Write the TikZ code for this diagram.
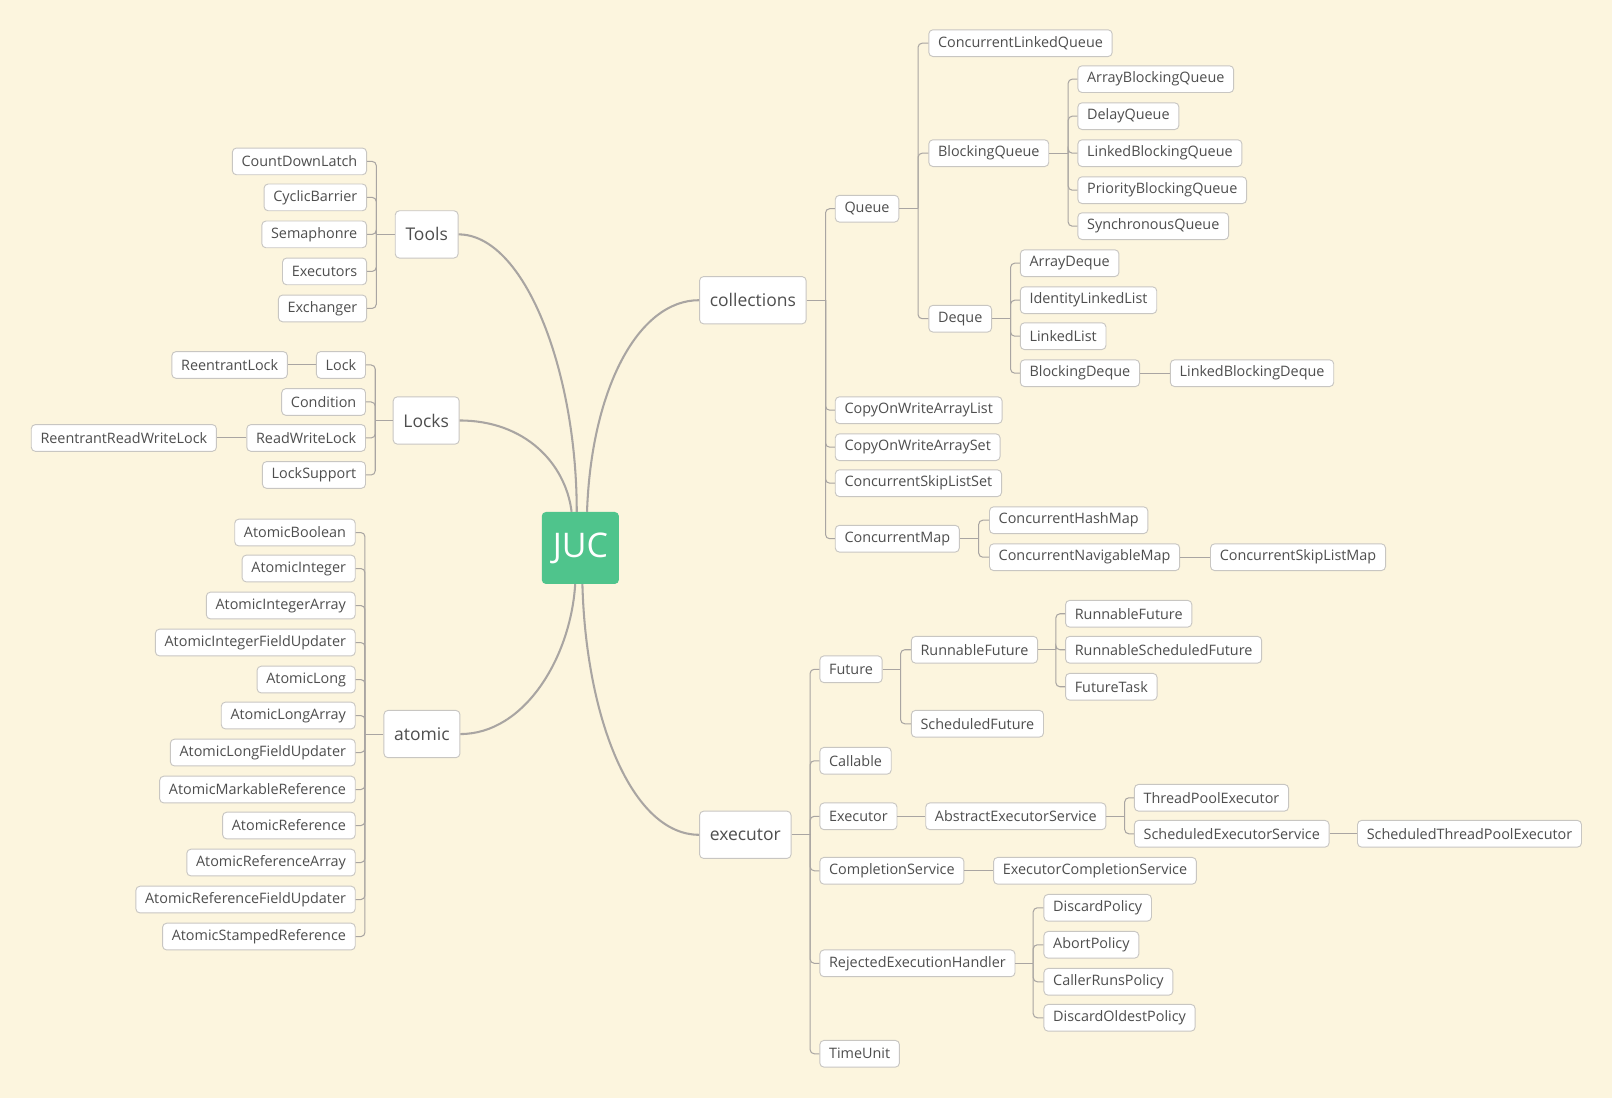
\documentclass[tikz,border=0pt]{standalone}
\usepackage{fontspec}
\setmainfont{Open Sans}
\definecolor{paper}{HTML}{FCF5DE}
\definecolor{jucgreen}{HTML}{4FC48C}
\definecolor{linegray}{HTML}{A9A5A2}
\definecolor{textgray}{HTML}{4E4E4E}
\definecolor{bordergray}{HTML}{C8C6C2}
\begin{document}
\begin{tikzpicture}[x=1pt, y=-1pt,
  leafbox/.style={draw=bordergray, fill=white, rounded corners=4pt, text=textgray, font=\fontsize{14}{16}\selectfont, inner xsep=9pt, minimum height=26pt, line width=0.9pt},
  topicbox/.style={draw=bordergray, fill=white, rounded corners=4pt, text=textgray, font=\fontsize{17}{20}\selectfont, inner xsep=10pt, minimum height=46pt, line width=0.9pt},
  rootbox/.style={fill=jucgreen, rounded corners=4pt, text=white, font=\fontsize{33}{38}\selectfont, minimum width=75pt, minimum height=70pt},
  treeline/.style={draw=linegray, line width=1pt, rounded corners=4pt},
  mainline/.style={draw=linegray, line width=2pt}
]
\useasboundingbox[fill=paper] (0,0) rectangle (1568,1068);

% root and main topics
\node[rootbox] (juc) at (564.5,533) {JUC};
\node[topicbox, anchor=west] (tools) at (384,228) {Tools};
\node[topicbox, anchor=west] (locks) at (382,409) {Locks};
\node[topicbox, anchor=west] (atomic) at (373,714) {atomic};
\node[topicbox, anchor=west] (coll) at (680,292) {collections};
\node[topicbox, anchor=west] (exec) at (680,812) {executor};

\draw[mainline] (tools.east) .. controls (510,228) and (561,360) .. ([xshift=-3.5pt]juc.north);
\draw[mainline] (locks.east) .. controls (510,409) and (550,450) .. ([xshift=-8.5pt]juc.north);
\draw[mainline] (coll.west) .. controls (620,292) and (575,380) .. ([xshift=6.5pt]juc.north);
\draw[mainline] (atomic.east) .. controls (510,714) and (555,640) .. ([xshift=-5pt]juc.south);
\draw[mainline] (exec.west) .. controls (615,812) and (570,700) .. ([xshift=2pt]juc.south);

% Tools
\node[leafbox, anchor=east] (cdl) at (357,157) {CountDownLatch};
\node[leafbox, anchor=east] (cyclic) at (357,192) {CyclicBarrier};
\node[leafbox, anchor=east] (sema) at (357,228) {Semaphonre};
\node[leafbox, anchor=east] (execs) at (357,264) {Executors};
\node[leafbox, anchor=east] (exch) at (357,300) {Exchanger};
\coordinate (toolsbus) at (366,228);
\draw[treeline] (tools.west) -- (toolsbus);
\draw[treeline] (toolsbus) |- (cdl.east);
\draw[treeline] (toolsbus) |- (cyclic.east);
\draw[treeline] (toolsbus) |- (sema.east);
\draw[treeline] (toolsbus) |- (execs.east);
\draw[treeline] (toolsbus) |- (exch.east);

% Locks
\node[leafbox, anchor=east] (lock) at (356,355) {Lock};
\node[leafbox, anchor=east] (rlock) at (280,355) {ReentrantLock};
\node[leafbox, anchor=east] (cond) at (356,391) {Condition};
\node[leafbox, anchor=east] (rwlock) at (356,426) {ReadWriteLock};
\node[leafbox, anchor=east] (rrwlock) at (211,426) {ReentrantReadWriteLock};
\node[leafbox, anchor=east] (lsupp) at (356,462) {LockSupport};
\coordinate (locksbus) at (365,409);
\draw[treeline] (locks.west) -- (locksbus);
\draw[treeline] (locksbus) |- (lock.east);
\draw[treeline] (locksbus) |- (cond.east);
\draw[treeline] (locksbus) |- (rwlock.east);
\draw[treeline] (locksbus) |- (lsupp.east);
\draw[treeline] (lock.west) -- (rlock.east);
\draw[treeline] (rwlock.west) -- (rrwlock.east);

% atomic
\node[leafbox, anchor=east] (aboolean) at (346,518) {AtomicBoolean};
\node[leafbox, anchor=east] (aint) at (346,553) {AtomicInteger};
\node[leafbox, anchor=east] (aintarr) at (346,589) {AtomicIntegerArray};
\node[leafbox, anchor=east] (aintfu) at (346,625) {AtomicIntegerFieldUpdater};
\node[leafbox, anchor=east] (along) at (346,661) {AtomicLong};
\node[leafbox, anchor=east] (alongarr) at (346,696) {AtomicLongArray};
\node[leafbox, anchor=east] (alongfu) at (346,732) {AtomicLongFieldUpdater};
\node[leafbox, anchor=east] (amark) at (346,768) {AtomicMarkableReference};
\node[leafbox, anchor=east] (aref) at (346,803) {AtomicReference};
\node[leafbox, anchor=east] (arefarr) at (346,839) {AtomicReferenceArray};
\node[leafbox, anchor=east] (areffu) at (346,875) {AtomicReferenceFieldUpdater};
\node[leafbox, anchor=east] (astamp) at (346,911) {AtomicStampedReference};
\coordinate (atomicbus) at (355,714);
\draw[treeline] (atomic.west) -- (atomicbus);
\draw[treeline] (atomicbus) |- (aboolean.east);
\draw[treeline] (atomicbus) |- (aint.east);
\draw[treeline] (atomicbus) |- (aintarr.east);
\draw[treeline] (atomicbus) |- (aintfu.east);
\draw[treeline] (atomicbus) |- (along.east);
\draw[treeline] (atomicbus) |- (alongarr.east);
\draw[treeline] (atomicbus) |- (alongfu.east);
\draw[treeline] (atomicbus) |- (amark.east);
\draw[treeline] (atomicbus) |- (aref.east);
\draw[treeline] (atomicbus) |- (arefarr.east);
\draw[treeline] (atomicbus) |- (areffu.east);
\draw[treeline] (atomicbus) |- (astamp.east);

% collections
\node[leafbox, anchor=west] (queue) at (812,203) {Queue};
\node[leafbox, anchor=west] (cowlist) at (812,399) {CopyOnWriteArrayList};
\node[leafbox, anchor=west] (cowset) at (812,435) {CopyOnWriteArraySet};
\node[leafbox, anchor=west] (csls) at (812,470) {ConcurrentSkipListSet};
\node[leafbox, anchor=west] (cmap) at (812,524) {ConcurrentMap};
\coordinate (collbus) at (803,292);
\draw[treeline] (coll.east) -- (collbus);
\draw[treeline] (collbus) |- (queue.west);
\draw[treeline] (collbus) |- (cowlist.west);
\draw[treeline] (collbus) |- (cowset.west);
\draw[treeline] (collbus) |- (csls.west);
\draw[treeline] (collbus) |- (cmap.west);

\node[leafbox, anchor=west] (clq) at (903,42) {ConcurrentLinkedQueue};
\node[leafbox, anchor=west] (bq) at (903,149) {BlockingQueue};
\node[leafbox, anchor=west] (deque) at (903,310) {Deque};
\coordinate (queuebus) at (893,203);
\draw[treeline] (queue.east) -- (queuebus);
\draw[treeline] (queuebus) |- (clq.west);
\draw[treeline] (queuebus) |- (bq.west);
\draw[treeline] (queuebus) |- (deque.west);

\node[leafbox, anchor=west] (abq) at (1048,77) {ArrayBlockingQueue};
\node[leafbox, anchor=west] (delayq) at (1048,113) {DelayQueue};
\node[leafbox, anchor=west] (lbq) at (1048,149) {LinkedBlockingQueue};
\node[leafbox, anchor=west] (pbq) at (1048,185) {PriorityBlockingQueue};
\node[leafbox, anchor=west] (syncq) at (1048,220) {SynchronousQueue};
\coordinate (bqbus) at (1039,149);
\draw[treeline] (bq.east) -- (bqbus);
\draw[treeline] (bqbus) |- (abq.west);
\draw[treeline] (bqbus) |- (delayq.west);
\draw[treeline] (bqbus) |- (lbq.west);
\draw[treeline] (bqbus) |- (pbq.west);
\draw[treeline] (bqbus) |- (syncq.west);

\node[leafbox, anchor=west] (adeque) at (992,256) {ArrayDeque};
\node[leafbox, anchor=west] (ilist) at (992,292) {IdentityLinkedList};
\node[leafbox, anchor=west] (llist) at (992,327) {LinkedList};
\node[leafbox, anchor=west] (bdeque) at (992,363) {BlockingDeque};
\node[leafbox, anchor=west] (lbdeque) at (1138,363) {LinkedBlockingDeque};
\coordinate (dequebus) at (983,310);
\draw[treeline] (deque.east) -- (dequebus);
\draw[treeline] (dequebus) |- (adeque.west);
\draw[treeline] (dequebus) |- (ilist.west);
\draw[treeline] (dequebus) |- (llist.west);
\draw[treeline] (dequebus) |- (bdeque.west);
\draw[treeline] (bdeque.east) -- (lbdeque.west);

\node[leafbox, anchor=west] (chm) at (962,506) {ConcurrentHashMap};
\node[leafbox, anchor=west] (cnm) at (962,542) {ConcurrentNavigableMap};
\node[leafbox, anchor=west] (cslm) at (1177,542) {ConcurrentSkipListMap};
\coordinate (cmapbus) at (952,524);
\draw[treeline] (cmap.east) -- (cmapbus);
\draw[treeline] (cmapbus) |- (chm.west);
\draw[treeline] (cmapbus) |- (cnm.west);
\draw[treeline] (cnm.east) -- (cslm.west);

% executor
\node[leafbox, anchor=west] (future) at (797,651) {Future};
\node[leafbox, anchor=west] (callable) at (797,740) {Callable};
\node[leafbox, anchor=west] (executor) at (797,794) {Executor};
\node[leafbox, anchor=west] (compl) at (797,847) {CompletionService};
\node[leafbox, anchor=west] (reh) at (797,937) {RejectedExecutionHandler};
\node[leafbox, anchor=west] (tunit) at (797,1025) {TimeUnit};
\coordinate (execbus) at (788,812);
\draw[treeline] (exec.east) -- (execbus);
\draw[treeline] (execbus) |- (future.west);
\draw[treeline] (execbus) |- (callable.west);
\draw[treeline] (execbus) |- (executor.west);
\draw[treeline] (execbus) |- (compl.west);
\draw[treeline] (execbus) |- (reh.west);
\draw[treeline] (execbus) |- (tunit.west);

\node[leafbox, anchor=west] (rfuture) at (886,632) {RunnableFuture};
\node[leafbox, anchor=west] (sfuture) at (886,704) {ScheduledFuture};
\coordinate (futurebus) at (876,651);
\draw[treeline] (future.east) -- (futurebus);
\draw[treeline] (futurebus) |- (rfuture.west);
\draw[treeline] (futurebus) |- (sfuture.west);

\node[leafbox, anchor=west] (rfuture2) at (1036,597) {RunnableFuture};
\node[leafbox, anchor=west] (rsfuture) at (1036,632) {RunnableScheduledFuture};
\node[leafbox, anchor=west] (ftask) at (1036,668) {FutureTask};
\coordinate (rfbus) at (1027,632);
\draw[treeline] (rfuture.east) -- (rfbus);
\draw[treeline] (rfbus) |- (rfuture2.west);
\draw[treeline] (rfbus) |- (rsfuture.west);
\draw[treeline] (rfbus) |- (ftask.west);

\node[leafbox, anchor=west] (aes) at (900,794) {AbstractExecutorService};
\node[leafbox, anchor=west] (tpe) at (1103,776) {ThreadPoolExecutor};
\node[leafbox, anchor=west] (ses) at (1103,811) {ScheduledExecutorService};
\node[leafbox, anchor=west] (stpe) at (1320,811) {ScheduledThreadPoolExecutor};
\coordinate (aesbus) at (1094,794);
\draw[treeline] (executor.east) -- (aes.west);
\draw[treeline] (aes.east) -- (aesbus);
\draw[treeline] (aesbus) |- (tpe.west);
\draw[treeline] (aesbus) |- (ses.west);
\draw[treeline] (ses.east) -- (stpe.west);

\node[leafbox, anchor=west] (ecs) at (966,847) {ExecutorCompletionService};
\draw[treeline] (compl.east) -- (ecs.west);

\node[leafbox, anchor=west] (discard) at (1015,883) {DiscardPolicy};
\node[leafbox, anchor=west] (abort) at (1015,919) {AbortPolicy};
\node[leafbox, anchor=west] (caller) at (1015,955) {CallerRunsPolicy};
\node[leafbox, anchor=west] (oldest) at (1015,990) {DiscardOldestPolicy};
\coordinate (rehbus) at (1005,937);
\draw[treeline] (reh.east) -- (rehbus);
\draw[treeline] (rehbus) |- (discard.west);
\draw[treeline] (rehbus) |- (abort.west);
\draw[treeline] (rehbus) |- (caller.west);
\draw[treeline] (rehbus) |- (oldest.west);
\end{tikzpicture}
\end{document}
